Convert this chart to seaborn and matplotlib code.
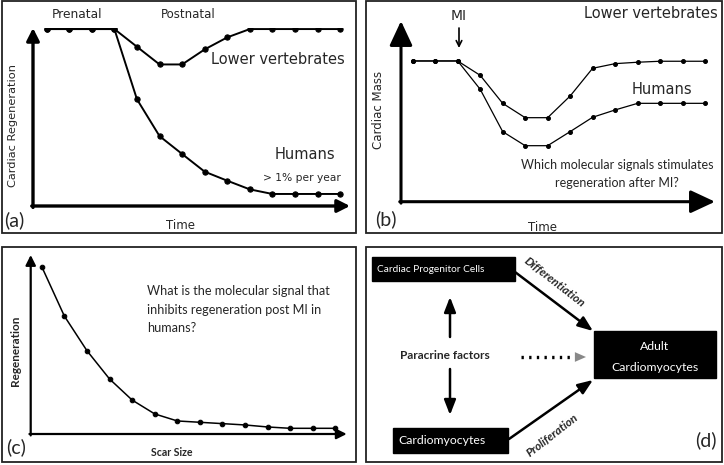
import matplotlib
matplotlib.use("Agg")
import matplotlib.pyplot as plt
from matplotlib.patches import Rectangle
import seaborn as sns

# panel (a): cardiac regeneration over time
time_a = list(range(14))
lower_vert_a = [100, 100, 100, 100, 90, 80, 80, 88.5, 95.3, 100, 100, 100, 100, 100]
humans_a = [100, 100, 100, 100, 60.3, 39.5, 29.4, 19.4, 14.3, 9.4, 6.8, 6.8, 6.8, 6.8]

# panel (b): cardiac mass after MI
time_b = list(range(14))
lower_vert_b = [100, 100, 100, 89.8, 69.9, 59.7, 59.7, 75.1, 94.8, 98.1, 99.1, 99.8, 99.8, 99.8]
humans_b = [100, 100, 100, 79.9, 49.8, 39.8, 39.8, 49.8, 60.0, 65.2, 69.9, 69.9, 69.9, 69.9]

# panel (c): regeneration vs scar size
scar = list(range(14))
regen_c = [100, 70.5, 49.8, 32.9, 20.3, 12.0, 7.8, 7.0, 6.2, 5.4, 4.2, 3.4, 3.4, 3.4]

W, H = 724, 465
sns.set_style("white")
plt.rcParams['font.family'] = ['DejaVu Sans']
CAL = ['Lato', 'DejaVu Sans']

fig = plt.figure(figsize=(W / 100, H / 100), dpi=100)

# overlay axes in pixel coords for frames, text and the diagram
ov = fig.add_axes([0, 0, 1, 1])
ov.set_xlim(0, W)
ov.set_ylim(H, 0)
ov.axis('off')


def frame(x0, y0, x1, y1):
    ov.add_patch(Rectangle((x0, y0), x1 - x0, y1 - y0, fill=False, lw=1.3, ec='#222222'))


frame(1.5, 1.5, 355.5, 233)
frame(366, 1.5, 722, 233)
frame(1.5, 247, 355.5, 461.5)
frame(366, 247, 722, 461.5)


def panel_axes(x0, y0, x1, y1):
    # origin pixel (x0, y0), x arrow tip x1, y arrow tip y1
    ax = fig.add_axes([x0 / W, 1 - y0 / H, (x1 - x0) / W, (y0 - y1) / H])
    ax.patch.set_alpha(0)
    for s in ax.spines.values():
        s.set_visible(False)
    return ax


def axis_arrows(ax, lw, hl, hw):
    kw = dict(arrowstyle=f'-|>,head_length={hl},head_width={hw}', lw=lw, color='black',
              shrinkA=0, shrinkB=0, mutation_scale=10)
    ax.annotate('', xy=(1, 0), xytext=(-0.004, 0), xycoords='axes fraction', arrowprops=kw)
    ax.annotate('', xy=(0, 1), xytext=(0, -0.008), xycoords='axes fraction', arrowprops=kw)


def finish(ax, xlim, ylim):
    ax.set_xlim(*xlim)
    ax.set_ylim(*ylim)
    ax.set_xticks([])
    ax.set_yticks([])
    ax.set_xlabel('')
    ax.set_ylabel('')


# ---- panel (a)
ax_a = panel_axes(33, 206, 350, 28)
for vals in [lower_vert_a, humans_a]:
    sns.lineplot(x=time_a, y=vals, ax=ax_a, color='black', lw=1.4, marker='o',
                 markersize=3.8, mec='black')
finish(ax_a, (-0.607, 13.44), (0, 100.6))
axis_arrows(ax_a, 2.4, 0.75, 0.38)

ov.text(77, 14, 'Prenatal', fontsize=8.8, ha='center', va='center')
ov.text(188, 15, 'Postnatal', fontsize=8.5, ha='center', va='center')
ov.text(278, 60, 'Lower vertebrates', fontsize=10.5, ha='center', va='center')
ov.text(305, 154, 'Humans', fontsize=10.5, ha='center', va='center')
ov.text(302, 178, '> 1% per year', fontsize=7.7, ha='center', va='center')
ov.text(13, 125, 'Cardiac Regeneration', fontsize=8.2, rotation=90, ha='center', va='center')
ov.text(180, 225, 'Time', fontsize=8.5, ha='center', va='center')
ov.text(14, 220, '(a)', fontsize=14, family=CAL, ha='center', va='center')

# ---- panel (b)
ax_b = panel_axes(401, 201.7, 715, 21)
for vals in [lower_vert_b, humans_b]:
    sns.lineplot(x=time_b, y=vals, ax=ax_b, color='black', lw=0.9, marker='o',
                 markersize=2.8, mec='black')
finish(ax_b, (-0.52, 13.44), (0, 128.4))
axis_arrows(ax_b, 2.2, 1.5, 0.7)

ov.annotate('', xy=(459, 48), xytext=(459, 28),
            arrowprops=dict(arrowstyle='->', lw=1.2, color='black', shrinkA=0, shrinkB=0))
ov.text(459, 16, 'MI', fontsize=10, ha='center', va='center')
ov.text(651, 14, 'Lower vertebrates', fontsize=10.5, ha='center', va='center')
ov.text(662, 90, 'Humans', fontsize=10.5, ha='center', va='center')
ov.text(617, 165, 'Which molecular signals stimulates', fontsize=9, family=CAL,
        ha='center', va='center')
ov.text(617, 183, 'regeneration after MI?', fontsize=9, family=CAL, ha='center', va='center')
ov.text(378, 110, 'Cardiac Mass', fontsize=8.5, rotation=90, ha='center', va='center')
ov.text(542, 227, 'Time', fontsize=8.5, ha='center', va='center')
ov.text(386, 219, '(b)', fontsize=14, family=CAL, ha='center', va='center')

# ---- panel (c)
ax_c = panel_axes(30.7, 434, 346.7, 255)
sns.lineplot(x=scar, y=regen_c, ax=ax_c, color='black', lw=1.1, marker='o',
             markersize=3.3, mec='black')
finish(ax_c, (-0.49, 13.5), (0, 107))
axis_arrows(ax_c, 1.6, 0.6, 0.3)

for i, line in enumerate(['What is the molecular signal that',
                          'inhibits regeneration post MI in', 'humans?']):
    ov.text(147, 291 + 18.5 * i, line, fontsize=9.1, family=CAL, ha='left', va='center')
ov.text(15, 351, 'Regeneration', fontsize=8.5, family=CAL, weight='bold', rotation=90,
        ha='center', va='center')
ov.text(172, 452, 'Scar Size', fontsize=7.6, family=CAL, weight='bold', ha='center', va='center')
ov.text(16.5, 447, '(c)', fontsize=14, family=CAL, ha='center', va='center')

# ---- panel (d): diagram
ov.add_patch(Rectangle((372, 257), 143, 24, color='black'))
ov.text(377, 269, 'Cardiac Progenitor Cells', fontsize=7.3, family=CAL, color='white',
        ha='left', va='center')
ov.add_patch(Rectangle((594, 331), 122, 47, color='black'))
ov.text(655, 346, 'Adult', fontsize=8.8, family=CAL, color='white', ha='center', va='center')
ov.text(655, 367, 'Cardiomyocytes', fontsize=8.8, family=CAL, color='white',
        ha='center', va='center')
ov.add_patch(Rectangle((393, 428), 115, 25, color='black'))
ov.text(398, 440, 'Cardiomyocytes', fontsize=8.8, family=CAL, color='white',
        ha='left', va='center')
ov.text(445, 355, 'Paracrine factors', fontsize=8.6, family=CAL, weight='bold',
        ha='center', va='center')

akw = dict(arrowstyle='-|>,head_length=0.9,head_width=0.35', lw=1.8, color='black',
           shrinkA=0, shrinkB=0, mutation_scale=10)
ov.annotate('', xy=(450, 297), xytext=(450, 337), arrowprops=akw)
ov.annotate('', xy=(450, 415), xytext=(450, 369), arrowprops=akw)
ov.annotate('', xy=(593, 331), xytext=(515, 272), arrowprops=akw)
ov.annotate('', xy=(593, 380), xytext=(509, 439), arrowprops=akw)
ov.plot([521, 577], [357, 357], color='black', lw=2.4, ls=(0, (0.7, 1.6)))
ov.annotate('', xy=(586, 357), xytext=(577, 357),
            arrowprops=dict(arrowstyle='-|>,head_length=0.8,head_width=0.35', lw=0,
                            color='#888888', shrinkA=0, shrinkB=0, mutation_scale=10))
ov.text(554, 282, 'Differentiation', fontsize=8.5, family=CAL, weight='bold',
        style='italic', rotation=-38, ha='center', va='center', rotation_mode='anchor')
ov.text(552, 435, 'Proliferation', fontsize=8.5, family=CAL, weight='bold',
        style='italic', rotation=38, ha='center', va='center', rotation_mode='anchor')
ov.text(706, 440, '(d)', fontsize=14, family=CAL, ha='center', va='center')

fig.savefig('out.png', dpi=100)
